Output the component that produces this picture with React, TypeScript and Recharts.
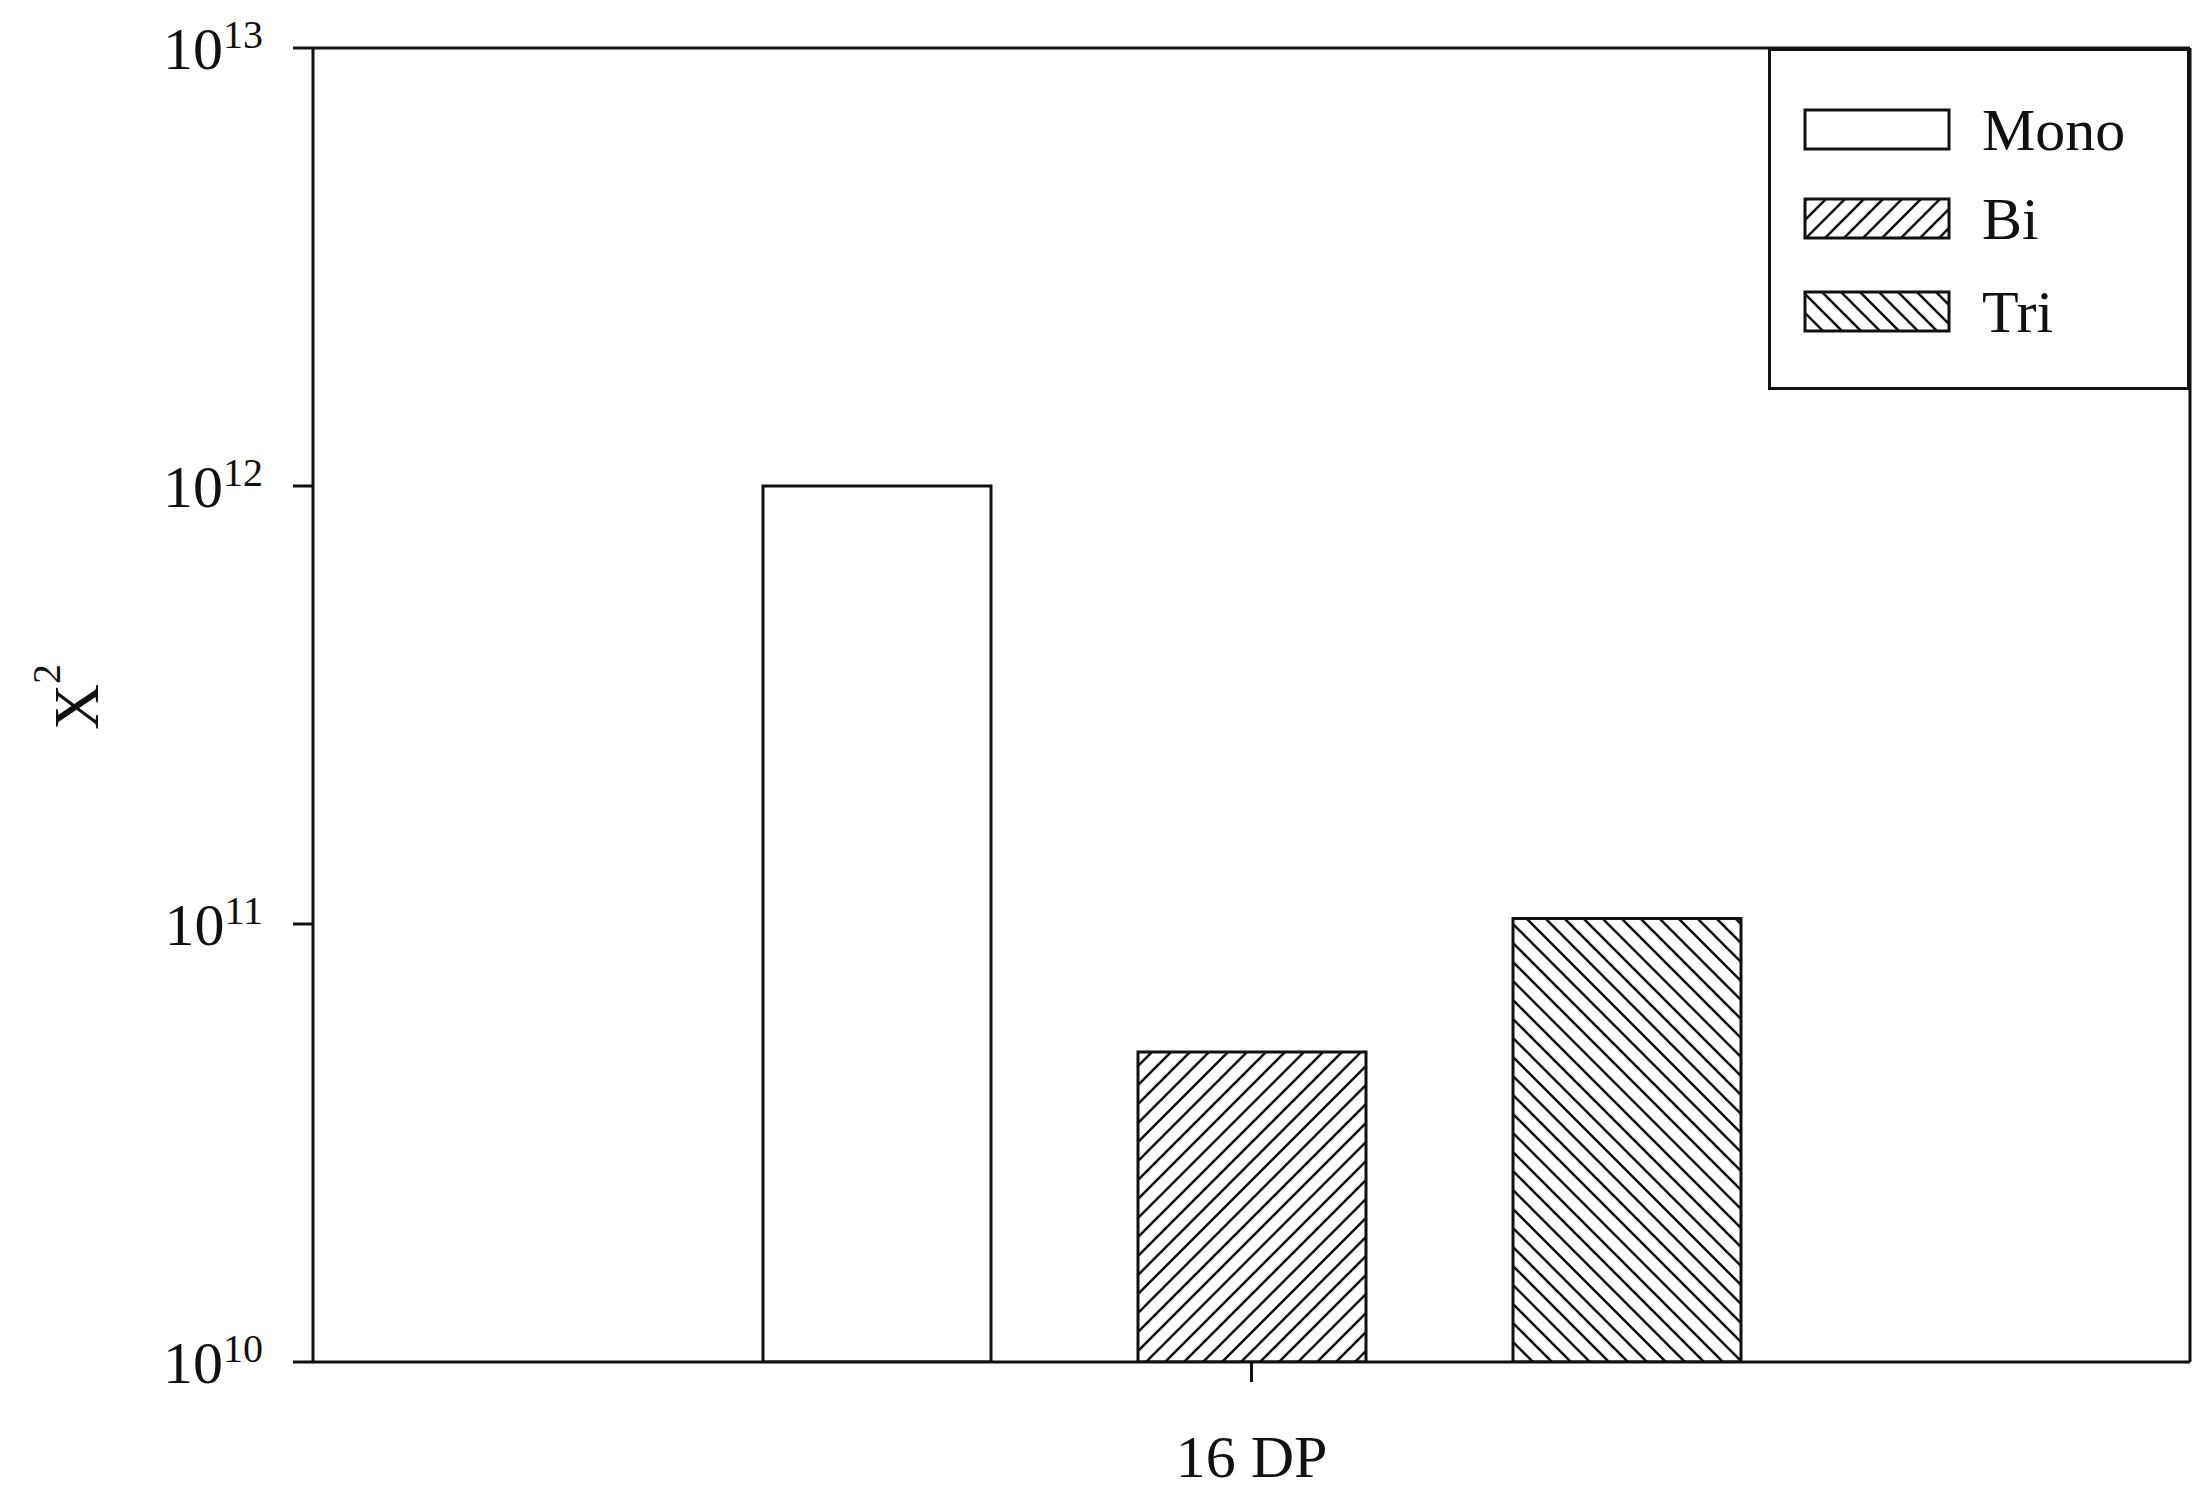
import { BarChart, Bar, XAxis, YAxis } from 'recharts'

const FONT = '"Liberation Serif", "DejaVu Serif", serif'

const categories = ['16 DP']
const series = ['Mono', 'Bi', 'Tri']
const monoValues = [1e12]
const biValues = [5.1e10]
const triValues = [1.03e11]
const yTicks = [1e10, 1e11, 1e12, 1e13]

const data = categories.map((name, i) => ({
  name,
  Mono: monoValues[i],
  Bi: biValues[i],
  Tri: triValues[i],
}))

const fills: Record<string, string> = {
  Mono: '#ffffff',
  Bi: 'url(#hatchBi)',
  Tri: 'url(#hatchTri)',
}

function Patterns({ id = '' }: { id?: string }) {
  return (
    <defs>
      <pattern id={'hatchBi' + id} patternUnits="userSpaceOnUse" width={19} height={19}>
        <rect width={19} height={19} fill="#fff" />
        <path d="M0,19 L19,0 M-4.75,4.75 L4.75,-4.75 M14.25,23.75 L23.75,14.25" stroke="#111" strokeWidth={2.6} />
      </pattern>
      <pattern id={'hatchTri' + id} patternUnits="userSpaceOnUse" width={19} height={19}>
        <rect width={19} height={19} fill="#fff" />
        <path d="M0,0 L19,19 M-4.75,14.25 L4.75,23.75 M14.25,-4.75 L23.75,4.75" stroke="#111" strokeWidth={2.6} />
      </pattern>
    </defs>
  )
}

const PowerTick = ({ x, y, payload }: any) => {
  const exp = Math.round(Math.log10(payload.value))
  return (
    <text x={x} y={y} textAnchor="end" fontFamily={FONT} fontSize={60} fill="#111">
      <tspan dy={21}>10</tspan>
      <tspan fontSize={40} dy={-21}>{exp}</tspan>
    </text>
  )
}

const CatTick = ({ x, y, payload }: any) => (
  <text x={x} y={y + 95} textAnchor="middle" fontFamily={FONT} fontSize={60} fill="#111">
    {payload.value}
  </text>
)

const YLabel = ({ viewBox }: any) => {
  const cx = 98
  const cy = viewBox.y + viewBox.height / 2 - 8
  return (
    <text x={cx} y={cy} transform={`rotate(-90, ${cx}, ${cy})`} textAnchor="middle"
      fontFamily={FONT} fontSize={64} fill="#111">
      X<tspan fontSize={40} dy={-38}>2</tspan>
    </text>
  )
}

function LegendBox() {
  const rows = [110, 199, 292]
  return (
    <svg width={422} height={342} style={{ position: 'absolute', left: 1768, top: 48 }}>
      <Patterns id="L" />
      <rect x={1.5} y={1.5} width={419} height={339} fill="#fff" stroke="#111" strokeWidth={3} />
      {series.map((s, i) => (
        <g key={s}>
          <rect x={37} y={rows[i] - 48} width={144} height={39}
            fill={s === 'Mono' ? '#fff' : `url(#hatch${s}L)`} stroke="#111" strokeWidth={3} />
          <text x={214} y={rows[i] - 48 + 40} fontFamily={FONT} fontSize={60} fill="#111">{s}</text>
        </g>
      ))}
    </svg>
  )
}

export default function App() {
  return (
    <div style={{ position: 'absolute', left: 0, top: 0, width: 2210, height: 1501, background: '#fff' }}>
      <BarChart width={2210} height={1501} data={data}
        margin={{ top: 47, right: 19, left: 0, bottom: 0 }}
        barSize={228} barGap={147}>
        <Patterns />
        <XAxis dataKey="name" height={139} tickSize={20} tickMargin={0}
          axisLine={{ stroke: '#111', strokeWidth: 3 }}
          tickLine={{ stroke: '#111', strokeWidth: 3 }}
          tick={<CatTick />} />
        <XAxis xAxisId="top" orientation="top" dataKey="name" height={1}
          tick={false} tickLine={false} axisLine={{ stroke: '#111', strokeWidth: 3 }} />
        <YAxis scale="log" domain={[1e10, 1e13]} ticks={yTicks} allowDataOverflow
          width={313} tickSize={20} tickMargin={30} interval={0}
          axisLine={{ stroke: '#111', strokeWidth: 3 }}
          tickLine={{ stroke: '#111', strokeWidth: 3 }}
          tick={<PowerTick />}
          label={<YLabel />} />
        <YAxis yAxisId="right" orientation="right" width={1} type="number" domain={[0, 1]}
          tick={false} tickLine={false} axisLine={{ stroke: '#111', strokeWidth: 3 }} />
        {series.map((s) => (
          <Bar key={s} dataKey={s} fill={fills[s]} stroke="#111" strokeWidth={3}
            isAnimationActive={false} />
        ))}
      </BarChart>
      <LegendBox />
    </div>
  )
}
